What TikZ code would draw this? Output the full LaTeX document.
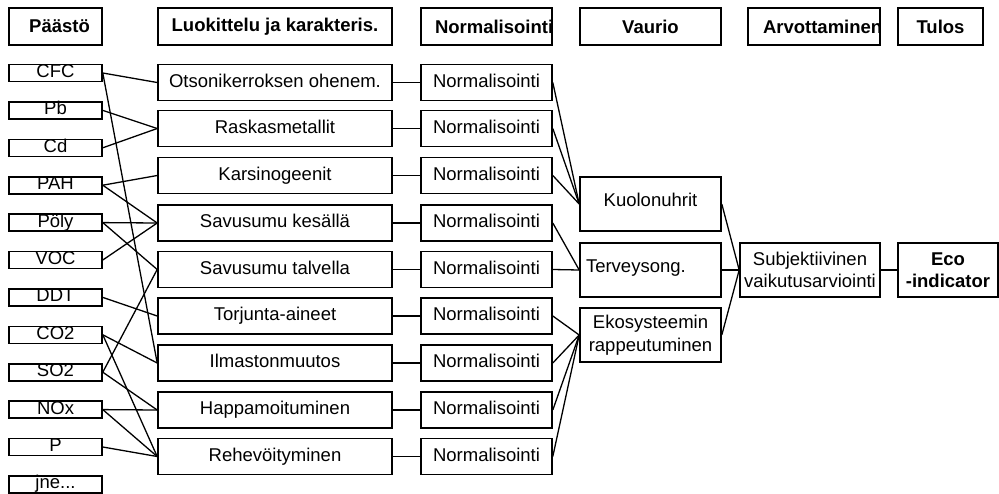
\documentclass[tikz,border=0pt]{standalone}
\usepackage{fontspec}
\setmainfont{Liberation Sans}
\usepackage{tikz}
\usetikzlibrary{positioning}

\begin{document}
\begin{tikzpicture}[x=1pt, y=-1pt,
    box/.style={draw, line width=1.6pt, inner sep=0pt, font=\fontsize{18.5}{22.5}\selectfont},
    hdr/.style={box, minimum height=37pt, font=\fontsize{18.5}{22.5}\selectfont\bfseries},
    emis/.style={box, minimum width=93pt, minimum height=17pt, text height=13pt, text depth=4pt},
    cat/.style={box, minimum width=234pt, minimum height=36pt, text height=13pt, text depth=4pt},
    norm/.style={box, minimum width=131pt, minimum height=36pt, text height=13pt, text depth=4pt},
    dmg/.style={box, minimum width=141pt, minimum height=54pt, text width=129pt, align=center},
    link/.style={line width=1.3pt}]
    \useasboundingbox (0,0) rectangle (999,493);
    % header row
    \node[hdr, minimum width=93pt] (hPaasto) at (55.5,26.5) {\makebox[93pt]{\hspace{8pt}Päästö}};
    \node[hdr, minimum width=234pt] (hLuok) at (275,26.5) {Luokittelu ja karakteris.};
    \node[hdr, minimum width=131pt] (hNorm) at (486.5,26.5) {\makebox[131pt][l]{\hspace{14pt}Normalisointi}};
    \node[hdr, minimum width=141pt] (hVaur) at (650.5,26.5) {Vaurio};
    \node[hdr, minimum width=132pt] (hArvo) at (814,26.5) {\makebox[132pt][l]{\hspace{15pt}Arvottaminen}};
    \node[hdr, minimum width=85pt] (hTulos) at (940.5,26.5) {Tulos};
    % emissions
    \foreach \n/\y/\t in {cfc/73/CFC, pb/110.4/Pb, cd/147.8/Cd, pah/185.2/PAH, poly/222.6/Pöly, voc/260/VOC,
        ddt/297.4/DDT, co2/334.8/CO2, so2/372.2/SO2, nox/409.6/NOx, p/447/P} {
        \node[emis] (\n) at (55.5,\y) {\t};
    }
    \node[emis] (jne) at (55.5,484.4) {jne...};
    % impact categories and their normalisation
    \foreach \n/\y/\t in {otso/82.5/Otsonikerroksen ohenem., rask/128.5/Raskasmetallit, kars/175.5/Karsinogeenit,
        savk/223/Savusumu kesällä, savt/269.5/Savusumu talvella, torj/316/Torjunta-aineet,
        ilma/363/Ilmastonmuutos, happ/410/Happamoituminen, rehe/456.5/Rehevöityminen} {
        \node[cat] (c\n) at (275,\y) {\t};
        \node[norm] (n\n) at (486.5,\y) {Normalisointi};
        \draw[link] (c\n) -- (n\n);
    }
    \foreach \a/\b in {cfc/otso, cfc/ilma, pb/rask, cd/rask, pah/kars, pah/savk, poly/savk, poly/savt, voc/savk,
        ddt/torj, co2/ilma, co2/rehe, so2/savt, so2/happ, nox/happ, nox/rehe, p/rehe} {
        \draw[link] (\a.east) -- (c\b.west);
    }
    % damage
    \node[dmg, text depth=8pt] (kuol) at (650.5,204) {Kuolonuhrit};
    \node[dmg, align=left, text depth=8pt] (terv) at (650.5,270) {Terveysong.};
    \node[dmg] (eko) at (650.5,335) {Ekosysteemin\\rappeutuminen};
    \foreach \a/\b in {otso/kuol, rask/kuol, kars/kuol, savk/terv, savt/terv, torj/eko, ilma/eko, happ/eko, rehe/eko} {
        \draw[link] (n\a.east) -- (\b.west);
    }
    % weighting and result
    \node[box, minimum width=140pt, minimum height=54pt, text width=136pt, align=center] (subj) at (810,270)
        {Subjektiivinen\\vaikutusarviointi};
    \node[box, minimum width=100pt, minimum height=54pt, text width=94pt, align=center,
        font=\fontsize{18.5}{22.5}\selectfont\bfseries] (eco) at (948,270) {Eco\\-indicator};
    \foreach \a in {kuol, terv, eko} { \draw[link] (\a.east) -- (subj.west); }
    \draw[link] (subj) -- (eco);
\end{tikzpicture}
\end{document}
